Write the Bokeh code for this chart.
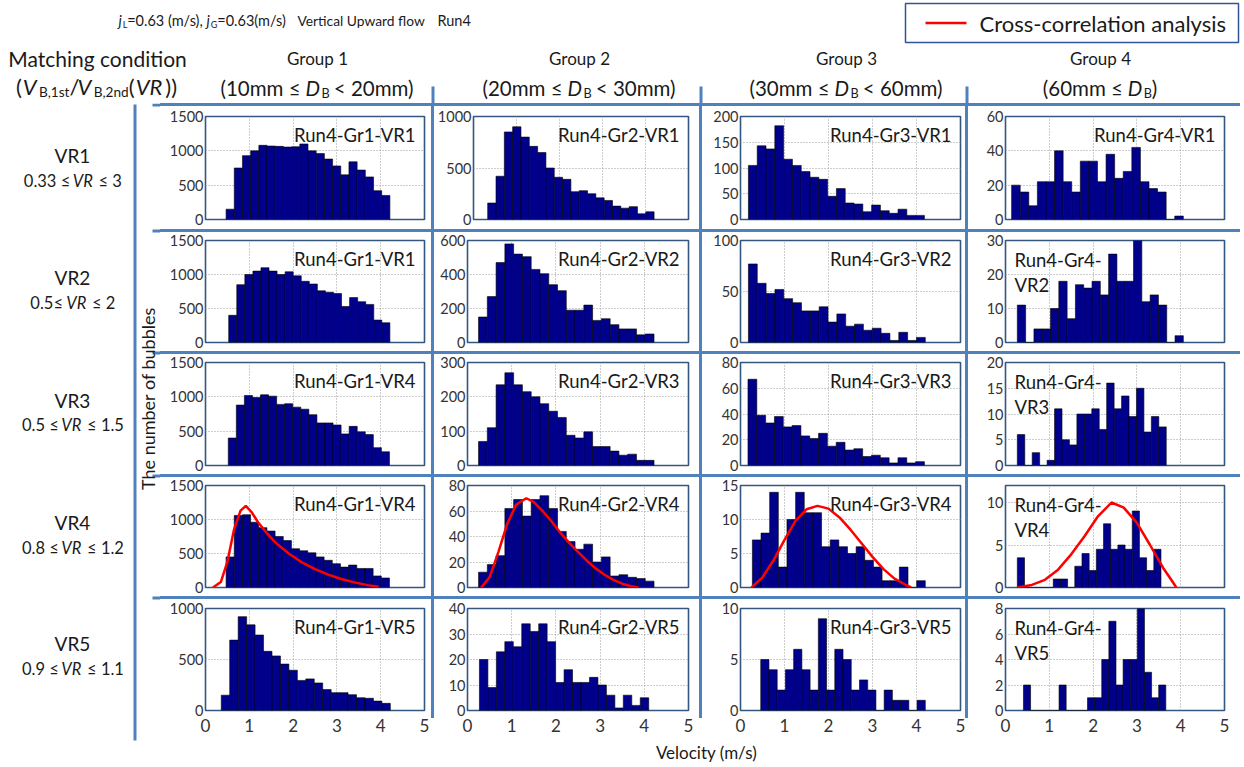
import numpy as np
from math import pi
from bokeh.plotting import figure
from bokeh.layouts import row, column
from bokeh.models import Range1d, FixedTicker, Label, Spacer
from bokeh.core.properties import value
from bokeh.embed import file_html
from bokeh.resources import INLINE

# ---------------- data ----------------
vr_labels = ["VR1", "VR2", "VR3", "VR4", "VR5"]
vr_ranges = ["0.33 ≤ VR ≤ 3", "0.5≤ VR ≤ 2", "0.5 ≤ VR ≤ 1.5", "0.8 ≤ VR ≤ 1.2", "0.9 ≤ VR ≤ 1.1"]
group_labels = ["Group 1", "Group 2", "Group 3", "Group 4"]
group_lo = ["(10mm ≤ ", "(20mm ≤ ", "(30mm ≤ ", "(60mm ≤ "]
group_hi = [" < 20mm)", " < 30mm)", " < 60mm)", ")"]
x_ticks = [0, 1, 2, 3, 4, 5]

titles_vr1 = ["Run4-Gr1-VR1", "Run4-Gr2-VR1", "Run4-Gr3-VR1", "Run4-Gr4-VR1"]
titles_vr2 = ["Run4-Gr1-VR1", "Run4-Gr2-VR2", "Run4-Gr3-VR2", "Run4-Gr4-\nVR2"]
titles_vr3 = ["Run4-Gr1-VR4", "Run4-Gr2-VR3", "Run4-Gr3-VR3", "Run4-Gr4-\nVR3"]
titles_vr4 = ["Run4-Gr1-VR4", "Run4-Gr2-VR4", "Run4-Gr3-VR4", "Run4-Gr4-\nVR4"]
titles_vr5 = ["Run4-Gr1-VR5", "Run4-Gr2-VR5", "Run4-Gr3-VR5", "Run4-Gr4-\nVR5"]

ylim_vr1 = [1500, 1000, 200, 60]
ylim_vr2 = [1500, 600, 100, 30]
ylim_vr3 = [1500, 300, 80, 20]
ylim_vr4 = [1500, 80, 15, 12]
ylim_vr5 = [1000, 40, 10, 8]

yticks_vr1 = [[0, 500, 1000, 1500], [0, 500, 1000], [0, 50, 100, 150, 200], [0, 20, 40, 60]]
yticks_vr2 = [[0, 500, 1000, 1500], [0, 200, 400, 600], [0, 50, 100], [0, 10, 20, 30]]
yticks_vr3 = [[0, 500, 1000, 1500], [0, 100, 200, 300], [0, 20, 40, 60, 80], [0, 5, 10, 15, 20]]
yticks_vr4 = [[0, 500, 1000, 1500], [0, 20, 40, 60, 80], [0, 5, 10, 15], [0, 5, 10]]
yticks_vr5 = [[0, 500, 1000], [0, 10, 20, 30, 40], [0, 5, 10], [0, 2, 4, 6, 8]]

# bin span [left edge of first bar, right edge of last bar] and bar heights
edges_vr1_gr1 = [0.47, 4.21]
counts_vr1_gr1 = [150, 750, 930, 1000, 1080, 1070, 1065, 1055, 1060, 1100, 1000, 960, 880, 780, 650, 840, 720, 620, 420, 350]
edges_vr1_gr2 = [0.33, 4.20]
counts_vr1_gr2 = [160, 420, 850, 900, 800, 710, 650, 500, 410, 390, 270, 280, 250, 210, 185, 130, 110, 125, 55, 75]
edges_vr1_gr3 = [0.18, 4.18]
counts_vr1_gr3 = [105, 143, 137, 182, 117, 105, 93, 82, 78, 45, 60, 32, 30, 15, 28, 17, 12, 20, 8, 8]
edges_vr1_gr4 = [0.14, 4.06]
counts_vr1_gr4 = [20, 16, 8, 22, 22, 40, 22, 16, 34, 34, 22, 38, 24, 28, 42, 22, 18, 16, 0, 2]

edges_vr2_gr1 = [0.53, 4.21]
counts_vr2_gr1 = [400, 850, 1000, 1050, 1100, 1050, 1000, 1040, 980, 900, 860, 760, 740, 720, 530, 660, 600, 560, 330, 290]
edges_vr2_gr2 = [0.25, 4.22]
counts_vr2_gr2 = [150, 270, 470, 580, 520, 505, 430, 405, 340, 305, 190, 190, 220, 130, 140, 105, 80, 80, 45, 50]
edges_vr2_gr3 = [0.18, 4.20]
counts_vr2_gr3 = [77, 58, 48, 52, 43, 39, 31, 31, 35, 20, 28, 16, 18, 12, 14, 9, 2, 10, 2, 5]
edges_vr2_gr4 = [0.27, 4.06]
counts_vr2_gr4 = [11, 0, 4, 4, 10, 18, 7, 17, 16, 18, 14, 26, 18, 18, 31, 12, 14, 11, 0, 2]

edges_vr3_gr1 = [0.52, 4.20]
counts_vr3_gr1 = [400, 880, 1020, 990, 1030, 1010, 890, 900, 850, 820, 740, 620, 620, 590, 460, 570, 490, 450, 260, 200]
edges_vr3_gr2 = [0.25, 4.22]
counts_vr3_gr2 = [70, 110, 235, 270, 235, 215, 200, 180, 158, 140, 88, 80, 98, 55, 55, 42, 30, 33, 15, 15]
edges_vr3_gr3 = [0.17, 4.18]
counts_vr3_gr3 = [67, 39, 33, 38, 30, 31, 23, 21, 25, 15, 18, 12, 13, 7, 8, 6, 2, 6, 2, 3]
edges_vr3_gr4 = [0.27, 3.67]
counts_vr3_gr4 = [6, 0, 2.5, 0, 1, 11, 5, 4, 10, 10, 11, 7, 16, 11, 13.5, 9.5, 15, 6.5, 9.5, 7.5]

edges_vr4_gr1 = [0.47, 4.20]
counts_vr4_gr1 = [450, 1060, 1070, 960, 880, 830, 750, 690, 570, 540, 510, 450, 400, 350, 300, 330, 280, 280, 170, 140]
edges_vr4_gr2 = [0.25, 4.22]
counts_vr4_gr2 = [12, 18, 25, 62, 69, 56, 69, 72, 62, 44, 36, 30, 34, 20, 24, 9, 10, 8, 7, 5]
edges_vr4_gr3 = [0.27, 4.20]
counts_vr4_gr3 = [7, 8, 14, 3, 10, 14, 11, 11, 6, 7, 6, 5, 6, 4, 3, 1, 1, 3, 0, 1]
edges_vr4_gr4 = [0.27, 3.55]
counts_vr4_gr4 = [3.5, 0, 0, 0, 0, 1, 1, 0, 2.5, 4, 2, 4.5, 7.5, 4.5, 5, 4.5, 9, 3.5, 2, 4.5]

edges_vr5_gr1 = [0.36, 4.22]
counts_vr5_gr1 = [150, 690, 920, 840, 740, 580, 535, 455, 395, 295, 310, 270, 205, 175, 175, 155, 125, 120, 92, 70]
edges_vr5_gr2 = [0.27, 4.10]
counts_vr5_gr2 = [20, 9, 23, 27, 25, 34, 31, 34, 27, 11, 16, 11, 11, 13, 10, 6, 1, 6, 2, 5]
edges_vr5_gr3 = [0.46, 4.20]
counts_vr5_gr3 = [5, 4, 2, 4, 6, 4, 2, 9, 2, 6, 5, 2, 3, 2, 0, 2, 1, 1, 0, 1]
edges_vr5_gr4 = [0.41, 3.66]
counts_vr5_gr4 = [2, 0, 0, 0, 0, 2, 0, 0, 0, 1, 1, 4, 7, 2, 4, 4, 8, 3, 1, 2]

# cross-correlation curves (VR4 row)
curve_gr1_x = [0.17, 0.35, 0.5, 0.65, 0.8, 0.92, 1.05, 1.2, 1.4, 1.6, 1.9, 2.2, 2.5, 2.8, 3.1, 3.4, 3.7, 3.95]
curve_gr1_y = [0, 80, 380, 850, 1130, 1200, 1110, 960, 800, 660, 500, 370, 270, 190, 125, 75, 35, 10]
curve_gr2_x = [0.31, 0.5, 0.7, 0.9, 1.1, 1.33, 1.5, 1.7, 1.9, 2.1, 2.3, 2.5, 2.7, 2.9, 3.1, 3.3, 3.5, 3.7, 3.87]
curve_gr2_y = [0, 8, 28, 50, 65, 70, 67, 60, 52, 43, 35, 28, 21, 15, 10, 6, 3, 1, 0]
curve_gr3_x = [0.25, 0.5, 0.75, 1.0, 1.25, 1.5, 1.75, 2.0, 2.25, 2.5, 2.75, 3.0, 3.25, 3.5, 3.75, 3.88]
curve_gr3_y = [0, 1.5, 4, 7, 9.8, 11.5, 12, 11.6, 10.3, 8.5, 6.5, 4.5, 2.7, 1.3, 0.4, 0]
curve_gr4_x = [0.27, 0.6, 0.9, 1.2, 1.5, 1.8, 2.1, 2.42, 2.7, 3.0, 3.3, 3.6, 3.8, 3.9]
curve_gr4_y = [0, 0.3, 0.9, 2.1, 3.9, 6.0, 8.3, 10, 9.4, 7.6, 5.0, 2.3, 0.8, 0]

# ---------------- assemble ----------------
TITLES = [titles_vr1, titles_vr2, titles_vr3, titles_vr4, titles_vr5]
YLIM = [ylim_vr1, ylim_vr2, ylim_vr3, ylim_vr4, ylim_vr5]
YTICKS = [yticks_vr1, yticks_vr2, yticks_vr3, yticks_vr4, yticks_vr5]
EDGES = [[edges_vr1_gr1, edges_vr1_gr2, edges_vr1_gr3, edges_vr1_gr4],
         [edges_vr2_gr1, edges_vr2_gr2, edges_vr2_gr3, edges_vr2_gr4],
         [edges_vr3_gr1, edges_vr3_gr2, edges_vr3_gr3, edges_vr3_gr4],
         [edges_vr4_gr1, edges_vr4_gr2, edges_vr4_gr3, edges_vr4_gr4],
         [edges_vr5_gr1, edges_vr5_gr2, edges_vr5_gr3, edges_vr5_gr4]]
COUNTS = [[counts_vr1_gr1, counts_vr1_gr2, counts_vr1_gr3, counts_vr1_gr4],
          [counts_vr2_gr1, counts_vr2_gr2, counts_vr2_gr3, counts_vr2_gr4],
          [counts_vr3_gr1, counts_vr3_gr2, counts_vr3_gr3, counts_vr3_gr4],
          [counts_vr4_gr1, counts_vr4_gr2, counts_vr4_gr3, counts_vr4_gr4],
          [counts_vr5_gr1, counts_vr5_gr2, counts_vr5_gr3, counts_vr5_gr4]]
CURVES = [(curve_gr1_x, curve_gr1_y), (curve_gr2_x, curve_gr2_y),
          (curve_gr3_x, curve_gr3_y), (curve_gr4_x, curve_gr4_y)]

# ---------------- layout (page coordinates) ----------------
X0, X1, Y0, Y1 = 0, 1240, 0, 763
FONT = "Lato"
TXT = "#1a1a1a"
SEP = "#4f81bd"
FRAME = "#34577f"
BAR = "#00008b"

LEFT_W = (X0, 160)
COL_CELLS = [(160, 431), (434, 699), (702, 965), (968, X1)]
ROW_CELLS = [(106, 229), (232, 351), (354, 474), (477, 596), (599, 741)]
HSEP = [(103, 106), (229, 232), (351, 354), (474, 477), (596, 599)]
COLS = [(205, 424), (467, 688), (740, 960), (1005, 1224)]   # frames
ROWS = [(116, 219), (240, 342), (362, 465), (485, 587), (608, 710)]
VSEP_X = [(431, 434), (699, 702), (965, 968)]
VSEP_TOP, VSEP_BOTTOM = 86, 718

CW = {' ': .21, '.': .23, ',': .23, '(': .31, ')': .31, '/': .37, '=': .58, '-': .35, '≤': .58, '<': .58,
      'a': .52, 'b': .57, 'c': .48, 'd': .57, 'e': .53, 'f': .33, 'g': .52, 'h': .57, 'i': .25, 'j': .25,
      'k': .51, 'l': .25, 'm': .84, 'n': .57, 'o': .58, 'p': .57, 'q': .57, 'r': .38, 's': .44, 't': .36,
      'u': .57, 'v': .52, 'w': .79, 'x': .50, 'y': .52, 'z': .47,
      'A': .68, 'B': .63, 'C': .66, 'D': .73, 'E': .56, 'F': .54, 'G': .72, 'H': .75, 'I': .28, 'J': .40,
      'K': .65, 'L': .48, 'M': .90, 'N': .75, 'O': .78, 'P': .59, 'Q': .78, 'R': .62, 'S': .52, 'T': .58,
      'U': .72, 'V': .68, 'W': 1.0, 'X': .65, 'Y': .62, 'Z': .60}


def tw(s, fs):
    return sum(CW.get(ch, 0.58) for ch in s) * fs


def canvas(xa, xb, ya, yb):
    f = figure(width=xb - xa, height=yb - ya, x_range=Range1d(xa, xb), y_range=Range1d(yb, ya),
               x_axis_location=None, y_axis_location=None, min_border=0,
               toolbar_location=None, output_backend="svg",
               outline_line_color=None, border_fill_color="white", background_fill_color="white")
    f.xgrid.visible = False
    f.ygrid.visible = False
    return f


def sepbar(w, h, color):
    return Spacer(width=w, height=h, styles={"background-color": color})


def rich(fig, pieces, x, y, fs, align="left", color=TXT):
    # y is the vertical centre of the main text
    sizes, widths = [], []
    for t, k in pieces:
        size = fs * 0.62 if k == "s" else fs
        sizes.append(size)
        widths.append(tw(t, size) + (0.05 * fs if k == "i" else 0))
    cx = x - sum(widths) / 2 if align == "center" else x
    for (t, k), size, wdt in zip(pieces, sizes, widths):
        yy = y + 0.26 * fs if k == "s" else y
        lead = len(t) - len(t.lstrip(" "))
        fig.text(x=[cx + lead * CW[' '] * size], y=[yy], text=[t.strip(" ")], text_font=value(FONT),
                 text_font_size=f"{size:.1f}px",
                 text_font_style="italic" if k == "i" else "normal",
                 text_align="left", text_baseline="middle", text_color=color)
        cx += wdt


def plain(fig, s, x, y, fs, align="center", angle=0.0):
    fig.text(x=[x], y=[y], text=[s], text_font=value(FONT), text_font_size=f"{fs}px",
             text_align=align, text_baseline="middle", text_color=TXT, angle=angle)


# ---- header strip ----
hdr = canvas(X0, X1, Y0, HSEP[0][0])
rich(hdr, [("j", "i"), ("L", "s"), ("=0.63 (m/s), ", "n"), ("j", "i"), ("G", "s"), ("=0.63(m/s)", "n")],
     118, 20, 14.5)
plain(hdr, "Vertical Upward flow", 297, 20, 13.8, align="left")
plain(hdr, "Run4", 437, 20, 14.5, align="left")
# legend box
hdr.quad(left=[905], right=[1238], top=[3], bottom=[42], fill_color="white", line_color="#2f5597", line_width=1.5)
hdr.segment(x0=[925], y0=[22.5], x1=[966], y1=[22.5], line_color="#ff0000", line_width=2.5)
plain(hdr, "Cross-correlation analysis", 979, 23, 22, align="left")
plain(hdr, "Matching condition", 97, 58, 21)
rich(hdr, [("(", "n"), ("V", "i"), ("B,1st", "s"), ("/", "n"), ("V", "i"), ("B,2nd", "s"),
           ("(", "n"), ("VR", "i"), ("))", "n")], 97, 86, 22, align="center")
group_cx = [317, 579, 846, 1100]
for gx, gl, lo, hi in zip(group_cx, group_labels, group_lo, group_hi):
    plain(hdr, gl, gx, 58, 17)
    rich(hdr, [(lo, "n"), ("D", "i"), ("B", "s"), (hi, "n")], gx, 87, 20.5, align="center")
hdr.quad(left=[a for a, b in VSEP_X], right=[b for a, b in VSEP_X], top=[VSEP_TOP] * 3,
         bottom=[HSEP[0][0]] * 3, fill_color=SEP, line_color=None)

# ---- left label strip ----
lft = canvas(LEFT_W[0], LEFT_W[1], HSEP[0][0], ROW_CELLS[-1][1])
lft.quad(left=[152] * 5, right=[160] * 5, top=[a for a, b in HSEP], bottom=[b for a, b in HSEP],
         fill_color=SEP, line_color=None)
lft.quad(left=[133], right=[136], top=[104], bottom=[740], fill_color=SEP, line_color=None)
row_cy = [(155, 180), (277, 302), (400, 424), (522, 547), (643, 668)]
for (yl, yr), lab, rng in zip(row_cy, vr_labels, vr_ranges):
    plain(lft, lab, 72, yl, 19)
    a, b = rng.split("VR")
    rich(lft, [(a, "n"), ("VR", "i"), (b, "n")], 72, yr, 16.5, align="center")
plain(lft, "The number of bubbles", 147, 398, 18, angle=pi / 2)

# ---- footer ----
ftr = canvas(X0, X1, ROW_CELLS[-1][1], Y1)
plain(ftr, "Velocity (m/s)", 706, 752, 17)


# ---- histogram panels ----
def panel(r, c):
    cl, cr = COL_CELLS[c]
    ct, cb = ROW_CELLS[r]
    L, R = COLS[c]
    T, B = ROWS[r]
    ymax = YLIM[r][c]
    f = figure(width=cr - cl, height=cb - ct, x_range=Range1d(0, 5), y_range=Range1d(0, ymax),
               toolbar_location=None, output_backend="svg",
               min_border_left=L - cl, min_border_right=cr - R,
               min_border_top=T - ct, min_border_bottom=cb - B,
               border_fill_color="white", background_fill_color="white",
               outline_line_color=FRAME, outline_line_width=1.6)
    xt = FixedTicker(ticks=x_ticks)
    yt = FixedTicker(ticks=YTICKS[r][c])
    f.xaxis.ticker = xt
    f.xgrid.ticker = xt
    f.yaxis.ticker = yt
    f.ygrid.ticker = yt
    f.grid.grid_line_color = "#9a9a9a"
    f.grid.grid_line_dash = "1 2"
    f.grid.grid_line_width = 1
    f.axis.axis_line_color = None
    f.axis.major_tick_line_color = None
    f.axis.minor_tick_line_color = None
    f.axis.major_tick_out = 0
    f.axis.major_tick_in = 0
    f.axis.minor_tick_out = 0
    f.axis.major_label_text_font = FONT
    f.axis.major_label_text_color = "#333333"
    f.yaxis.major_label_text_font_size = "14.5px"
    f.yaxis.major_label_standoff = 2
    if r < 4:
        f.xaxis.visible = False
    else:
        f.xaxis.major_label_text_font_size = "17px"
        f.xaxis.major_label_standoff = 8

    counts = np.array(COUNTS[r][c], dtype=float)
    x0, x1 = EDGES[r][c]
    n = len(counts)
    w = (x1 - x0) / n
    left = x0 + w * np.arange(n)
    f.quad(left=left, right=left + w, bottom=np.zeros(n), top=counts,
           fill_color=BAR, line_color="black", line_width=0.6)

    if r == 3:
        cx, cy = CURVES[c]
        f.line(cx, cy, line_color="#ff0000", line_width=2.5)

    title = TITLES[r][c]
    if "\n" in title:
        l1, l2 = title.split("\n")
        f.add_layout(Label(x=0, y=ymax, x_offset=9, y_offset=-8, text=l1, text_align="left",
                           text_baseline="top", text_font=FONT, text_font_size="18.5px", text_color=TXT))
        f.add_layout(Label(x=0, y=ymax, x_offset=9, y_offset=-33, text=l2, text_align="left",
                           text_baseline="top", text_font=FONT, text_font_size="18.5px", text_color=TXT))
    else:
        f.add_layout(Label(x=5, y=ymax, x_offset=-9, y_offset=-7, text=title, text_align="right",
                           text_baseline="top", text_font=FONT, text_font_size="18.5px", text_color=TXT))
    return f


grid_rows = []
full_w = COL_CELLS[-1][1] - COL_CELLS[0][0]
for r in range(5):
    ct, cb = ROW_CELLS[r]
    hs = HSEP[r]
    grid_rows.append(sepbar(full_w, hs[1] - hs[0], SEP))
    items = []
    for c in range(4):
        items.append(panel(r, c))
        if c < 3:
            sw = VSEP_X[c][1] - VSEP_X[c][0]
            if r < 4:
                items.append(sepbar(sw, cb - ct, SEP))
            else:
                items.append(column([sepbar(sw, VSEP_BOTTOM - ct, SEP), sepbar(sw, cb - VSEP_BOTTOM, "white")],
                                    spacing=0))
    grid_rows.append(row(items, spacing=0))

middle = row([lft, column(grid_rows, spacing=0)], spacing=0)
page = column([hdr, middle, ftr], spacing=0)

open("out.html", "w").write(file_html(page, INLINE))
